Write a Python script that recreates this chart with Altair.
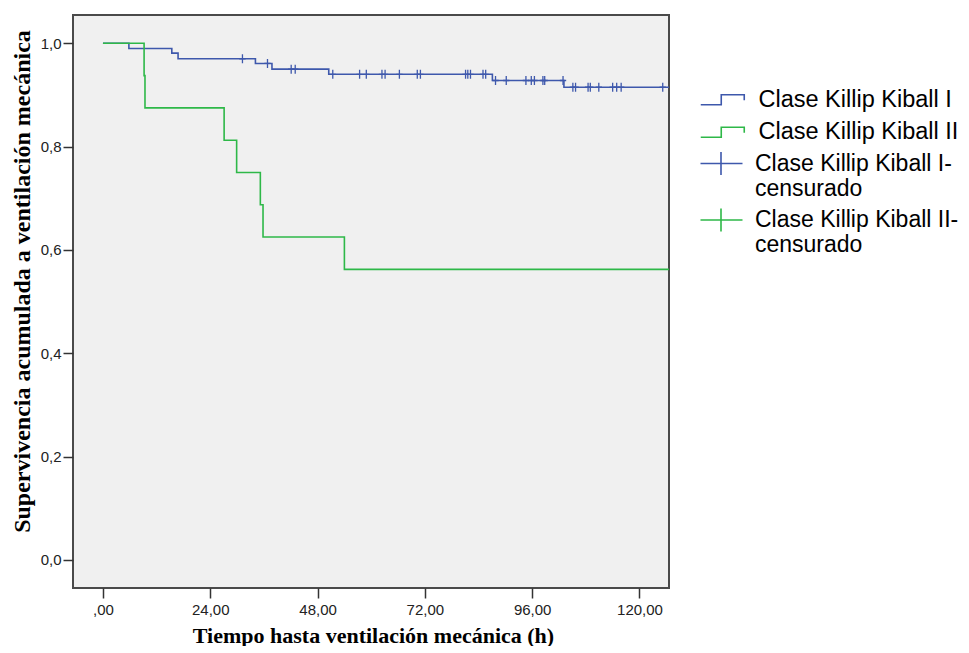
import altair as alt
import pandas as pd

BLUE = "#3E58AC"
GREEN = "#2EB848"

G1 = "Clase Killip Kiball I"
G2 = "Clase Killip Kiball II"
C1 = "Clase Killip Kiball I-|censurado"
C2 = "Clase Killip Kiball II-|censurado"

# Kaplan-Meier step curves (time in hours, cumulative survival)
blue_t = [0, 5.8, 15.4, 16.8, 34.1, 37.8, 50.5, 87.1, 103.1, 127]
blue_s = [1.0, 0.990, 0.981, 0.970, 0.961, 0.950, 0.940, 0.928, 0.915, 0.915]
green_t = [0, 9.2, 9.4, 27.1, 29.9, 35.2, 35.8, 54.0, 127]
green_s = [1.0, 0.9375, 0.875, 0.8125, 0.75, 0.6875, 0.625, 0.5625, 0.5625]

# Censored observations (group I)
cens_t = [31.2, 36.8, 42.1, 43.0, 51.4, 57.4, 58.9, 62.4, 63.1, 66.3, 70.3, 71.0,
          81.1, 81.6, 82.2, 85.0, 85.6, 87.8, 90.2, 94.6, 95.8, 96.5, 98.4, 98.8,
          102.9, 105.1, 105.7, 108.5, 109.0, 110.9, 114.0, 114.9, 115.9, 125.2]
cens_s = [0.970, 0.961, 0.950, 0.950, 0.940, 0.940, 0.940, 0.940, 0.940, 0.940, 0.940, 0.940,
          0.940, 0.940, 0.940, 0.940, 0.940, 0.928, 0.928, 0.928, 0.928, 0.928, 0.928, 0.928,
          0.928, 0.915, 0.915, 0.915, 0.915, 0.915, 0.915, 0.915, 0.915, 0.915]

x_ticks = [0, 24, 48, 72, 96, 120]
y_ticks = [0, 0.2, 0.4, 0.6, 0.8, 1.0]

line_df = pd.DataFrame({
    "t": blue_t + green_t,
    "s": blue_s + green_s,
    "grupo": [G1] * len(blue_t) + [G2] * len(green_t),
})
cens_df = pd.DataFrame({"t": cens_t, "s": cens_s, "cens": [C1] * len(cens_t)})

STEP = "M-4.2,1H-0.1V-1H4.5V0.1"
PLUS = "M-4.2,0H4.2M-0.1,-2.3V2.3"
TICK = "M0,-1V1M-0.7,0H0.7"

xscale = alt.Scale(domain=[-6.7, 126.6], nice=False, zero=False)
yscale = alt.Scale(domain=[-0.0542, 1.0548], nice=False, zero=False)

xaxis = alt.Axis(
    values=x_ticks,
    labelExpr="datum.value == 0 ? ',00' : replace(format(datum.value, '.2f'), '.', ',')",
    title="Tiempo hasta ventilación mecánica (h)",
    titleFont="Liberation Serif", titleFontSize=22, titleFontWeight="bold", titleColor="#000",
    titleX=300, titleY=54, titleBaseline="alphabetic",
    labelFont="Liberation Sans", labelFontSize=15, labelColor="#222",
    tickSize=10, tickWidth=1.5, tickColor="#333", labelPadding=4,
    domain=False, grid=False,
)
yaxis = alt.Axis(
    values=y_ticks,
    labelExpr="replace(format(datum.value, '.1f'), '.', ',')",
    title="Supervivencia acumulada a ventilación mecánica",
    titleFont="Liberation Serif", titleFontSize=24, titleFontWeight="bold", titleColor="#000",
    titleAngle=270, titleX=-51, titleY=266, titleBaseline="middle",
    labelFont="Liberation Sans", labelFontSize=15, labelColor="#222",
    tickSize=10, tickWidth=1.5, tickColor="#333", labelPadding=2,
    domain=False, grid=False,
)

lines = alt.Chart(line_df).mark_line(interpolate="step-after", strokeWidth=1.6, clip=True).encode(
    x=alt.X("t:Q", scale=xscale, axis=xaxis),
    y=alt.Y("s:Q", scale=yscale, axis=yaxis),
    color=alt.Color(
        "grupo:N",
        scale=alt.Scale(domain=[G1, G2], range=[BLUE, GREEN]),
        legend=alt.Legend(
            title=None, orient="none", legendX=637, legendY=73, padding=0,
            symbolType=STEP, symbolSize=100, symbolStrokeWidth=1.6,
            symbolFillColor="transparent",
            labelFont="Liberation Sans", labelFontSize=23.5, labelColor="#000",
            labelOffset=25, labelLimit=400, rowPadding=7.5,
        ),
    ),
)

cens = alt.Chart(cens_df).mark_point(
    shape=TICK, size=81, filled=False, strokeWidth=1.3, opacity=1, clip=True
).encode(
    x=alt.X("t:Q", scale=xscale),
    y=alt.Y("s:Q", scale=yscale),
    stroke=alt.Stroke(
        "cens:N",
        scale=alt.Scale(domain=[C1, C2], range=[BLUE, GREEN]),
        legend=alt.Legend(
            title=None, orient="none", legendX=637, legendY=137, padding=0,
            symbolType=PLUS, symbolSize=100, symbolStrokeWidth=1.6,
            symbolFillColor="transparent",
            labelFont="Liberation Sans", labelFontSize=23, labelColor="#000",
            labelExpr="split(datum.label, '|')",
            labelOffset=22, labelLimit=400, rowPadding=3.5,
        ),
    ),
)

chart = alt.layer(lines, cens).properties(
    width=596, height=573,
    autosize=alt.AutoSizeParams(type="none"),
    padding={"left": 65, "top": 7, "right": 292, "bottom": 58},
    background="white",
).configure_view(fill="#f0f0f0", stroke="#4a4a4a", strokeWidth=2)

chart.save("out.html", embed_options={"renderer": "svg", "actions": False})
